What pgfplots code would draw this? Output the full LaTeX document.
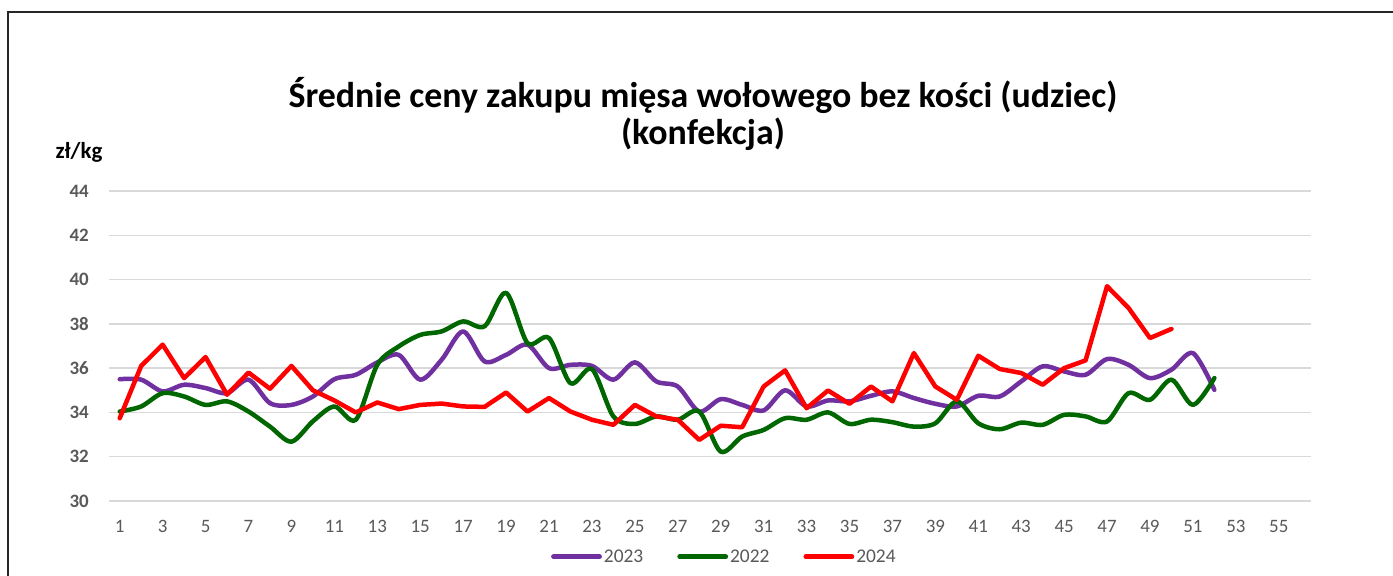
\documentclass[border=0pt]{standalone}
\usepackage{pgfplots}
\pgfplotsset{compat=1.18}
\usepackage{pgfplotstable}
\usepackage{fontspec}
\setmainfont{Carlito}
\definecolor{cpurple}{HTML}{7030A0}
\definecolor{cgreen}{HTML}{006600}
\definecolor{cred}{HTML}{FF0000}
\definecolor{tickgray}{HTML}{595959}
\definecolor{gridgray}{HTML}{D9D9D9}

\pgfplotstableread{
w v
1 35.5
2 35.48
3 34.95
4 35.25
5 35.1
6 34.87
7 35.48
8 34.42
9 34.34
10 34.72
11 35.5
12 35.7
13 36.26
14 36.6
15 35.48
16 36.38
17 37.66
18 36.3
19 36.6
20 37.06
21 36.0
22 36.15
23 36.1
24 35.48
25 36.26
26 35.4
27 35.17
28 34.04
29 34.6
30 34.34
31 34.09
32 35.0
33 34.27
34 34.54
35 34.5
36 34.75
37 34.95
38 34.65
39 34.39
40 34.27
41 34.75
42 34.72
43 35.4
44 36.08
45 35.85
46 35.7
47 36.41
48 36.15
49 35.55
50 35.93
51 36.68
52 35.02
}\tabA

\pgfplotstableread{
w v
1 34.04
2 34.27
3 34.87
4 34.72
5 34.34
6 34.5
7 34.04
8 33.36
9 32.68
10 33.6
11 34.27
12 33.67
13 36.15
14 36.98
15 37.5
16 37.66
17 38.11
18 37.89
19 39.4
20 37.13
21 37.36
22 35.32
23 35.96
24 33.82
25 33.48
26 33.82
27 33.67
28 34.04
29 32.23
30 32.91
31 33.21
32 33.74
33 33.67
34 34.0
35 33.48
36 33.67
37 33.56
38 33.36
39 33.51
40 34.5
41 33.51
42 33.24
43 33.54
44 33.44
45 33.89
46 33.82
47 33.59
48 34.87
49 34.57
50 35.48
51 34.34
52 35.55
}\tabB

\pgfplotstableread{
w v
1 33.74
2 36.1
3 37.06
4 35.55
5 36.5
6 34.8
7 35.8
8 35.07
9 36.1
10 35.0
11 34.54
12 34.0
13 34.45
14 34.15
15 34.34
16 34.4
17 34.27
18 34.25
19 34.9
20 34.04
21 34.65
22 34.04
23 33.67
24 33.44
25 34.34
26 33.82
27 33.67
28 32.76
29 33.4
30 33.33
31 35.17
32 35.9
33 34.19
34 34.99
35 34.39
36 35.17
37 34.5
38 36.68
39 35.17
40 34.57
41 36.56
42 35.96
43 35.78
44 35.25
45 36.0
46 36.35
47 39.7
48 38.72
49 37.36
50 37.77
}\tabC

\begin{document}
\begin{tikzpicture}
\path[use as bounding box] (0,0) rectangle (1393bp,576bp);
\fill[white] (0,0) rectangle (1393bp,576bp);
\draw[line width=1.6bp, black!85] (8bp,0) -- (8bp,564bp) -- (1393bp,564bp);
\node[font=\fontsize{36}{38}\selectfont\bfseries, align=center, text=black] at (703bp,462bp) {Średnie ceny zakupu mięsa wołowego bez kości (udziec)\\(konfekcja)};
\node[font=\fontsize{23}{26}\selectfont\bfseries, text=black] at (79bp,424bp) {zł/kg};
\begin{axis}[
  scale only axis,
  width=1202bp, height=310bp,
  at={(109bp,75bp)}, anchor=south west,
  xmin=0.5, xmax=56.5, ymin=30, ymax=44,
  xtick={1,3,...,55}, ytick={30,32,...,44},
  axis line style={draw=none},
  major tick length=0pt,
  ymajorgrids, grid style={gridgray, line width=1.3bp},
  /pgf/number format/assume math mode=true,
  xticklabel style={font=\fontsize{19}{22}\selectfont, text=tickgray, anchor=north, inner sep=0pt, yshift=-19bp},
  yticklabel style={font=\fontsize{19}{22}\selectfont\bfseries, text=tickgray, anchor=east, inner sep=0pt, xshift=-20bp},
  legend style={at={(axis description cs:0.512,-0.18)}, anchor=center, draw=none, fill=none,
    font=\fontsize{19.5}{22}\selectfont, text=tickgray, legend columns=3,
    /tikz/every even column/.append style={column sep=32bp}},
  legend image code/.code={\draw[#1, line width=4.8bp, line cap=round] (0bp,0bp) -- (46bp,0bp);},
  every axis plot/.append style={line width=4.5bp, line join=round, line cap=round},
]
\addplot[cpurple, smooth, tension=0.5] table[x=w, y=v] {\tabA};
\addlegendentry{2023}
\addplot[cgreen, smooth, tension=0.5] table[x=w, y=v] {\tabB};
\addlegendentry{2022}
\addplot[cred] table[x=w, y=v] {\tabC};
\addlegendentry{2024}
\end{axis}
\end{tikzpicture}
\end{document}
